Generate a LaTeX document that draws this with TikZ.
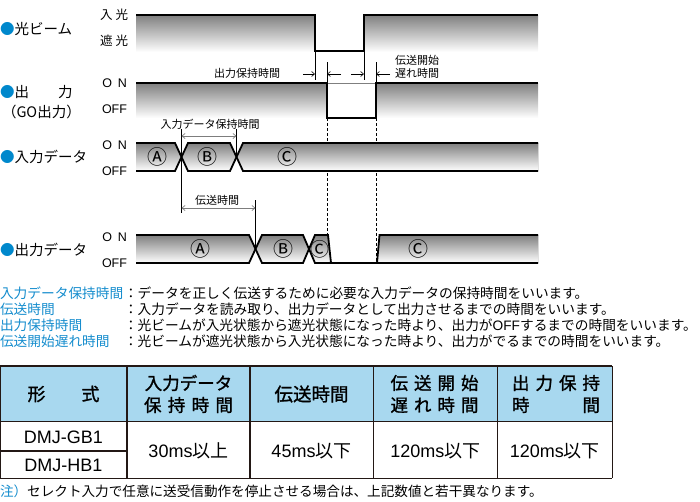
\documentclass[tikz,border=0pt]{standalone}
\usepackage{fontspec}
\setmainfont{Noto Sans CJK JP}
\newfontfamily\lat{Liberation Sans}
\newfontfamily\jpb[FakeBold=1.2]{Noto Sans CJK JP}
\usetikzlibrary{arrows.meta}
\definecolor{shade}{RGB}{233,243,252}
\definecolor{hdr}{RGB}{168,216,239}
\definecolor{bluetxt}{RGB}{20,140,205}
\definecolor{bullet}{RGB}{0,136,204}
\definecolor{dimgray}{RGB}{125,125,125}
\definecolor{gridc}{RGB}{35,24,21}
\newcommand\myfs[1]{\fontsize{#1}{#1}\selectfont}
\tikzset{
  x=1pt, y=-1pt,
  sig/.style={line width=1.8pt},
  thinline/.style={line width=0.8pt},
  guide/.style={line width=0.8pt, dashed, dash pattern=on 3pt off 2pt},
  dimarrow/.style={line width=0.6pt, -{Straight Barb[length=3pt,width=5pt]}},
  grayarrow/.style={line width=0.7pt, dimgray, {Straight Barb[length=3pt,width=5pt]}-{Straight Barb[length=3pt,width=5pt]}},
  txt/.style={inner sep=0pt, outer sep=0pt},
  gridline/.style={line width=1.1pt, gridc},
}
\begin{document}
\begin{tikzpicture}
\useasboundingbox (0,0) rectangle (700,501);
% ---------- light beam ----------
\fill[shade] (136,15) rectangle (538,52);
\fill[white] (316,14) rectangle (363,50);
\draw[sig] (136,15) -- (315,15) -- (315,51) -- (364,51) -- (364,15) -- (538,15);
% ---------- output ----------
\fill[shade] (136,83) rectangle (538,118);
\fill[white] (328,84) rectangle (375,117);
\draw[sig] (136,83) -- (327,83) -- (327,118) -- (376,118) -- (376,83) -- (538,83);
% guide lines and small arrows
\draw[thinline] (315,51) -- (315,80);
\draw[thinline] (364,51) -- (364,80);
\draw[thinline] (327,62) -- (327,83);
\draw[thinline] (376,62) -- (376,83);
\coordinate (a1s) at (303,74); \coordinate (a1e) at (315,74);
\coordinate (a2s) at (341,74); \coordinate (a2e) at (327,74);
\coordinate (a3s) at (351,74); \coordinate (a3e) at (364,74);
\coordinate (a4s) at (390,74); \coordinate (a4e) at (376,74);
\draw[dimarrow] (a1s) -- (a1e);
\draw[dimarrow] (a2s) -- (a2e);
\draw[dimarrow] (a3s) -- (a3e);
\draw[dimarrow] (a4s) -- (a4e);
\draw[guide] (327,118) -- (327,263);
\draw[guide] (376,118) -- (376,263);
% ---------- input data ----------
\fill[shade] (136,143) -- (175,143) -- (181.5,157) -- (175,171) -- (136,171) -- cycle;
\fill[shade] (181.5,157) -- (188,143) -- (230,143) -- (236.5,157) -- (230,171) -- (188,171) -- cycle;
\fill[shade] (236.5,157) -- (243,143) -- (538,143) -- (538,171) -- (243,171) -- cycle;
\draw[sig] (136,143) -- (175,143) -- (188,171) -- (230,171) -- (243,143) -- (538,143);
\draw[sig] (136,171) -- (175,171) -- (188,143) -- (230,143) -- (243,171) -- (538,171);
\draw[thinline] (181.5,129) -- (181.5,213);
\draw[thinline] (236.5,129) -- (236.5,157);
\coordinate (h1) at (181.5,136); \coordinate (h2) at (236.5,136);
\draw[grayarrow] (h1) -- (h2);
% ---------- output data ----------
\fill[shade] (136,235) -- (249,235) -- (255.5,249) -- (249,263) -- (136,263) -- cycle;
\fill[shade] (255.5,249) -- (262,235) -- (303,235) -- (309,249) -- (303,263) -- (262,263) -- cycle;
\fill[shade] (309,249) -- (315,235) -- (328,235) -- (331,263) -- (315,263) -- cycle;
\fill[shade] (377,263) -- (379.5,235) -- (538,235) -- (538,263) -- cycle;
\draw[sig] (136,235) -- (249,235) -- (262,263) -- (303,263) -- (315,235) -- (328,235) -- (331,263);
\draw[sig] (377,263) -- (379.5,235) -- (538,235);
\draw[sig] (136,263) -- (249,263) -- (262,235) -- (303,235) -- (315,263) -- (538,263);
\draw[thinline] (255.5,200) -- (255.5,249);
\coordinate (t1) at (181.5,208); \coordinate (t2) at (255.5,208);
\draw[grayarrow] (t1) -- (t2);
% ---------- timing labels ----------
\node[txt, anchor=west] (lbeam) at (0,29) {\myfs{14.5}{\color{bullet}●}光ビーム};
\node[txt, anchor=west] (lout) at (0,92) {\myfs{14.5}{\color{bullet}●}出　　力};
\node[txt, anchor=west] (lgo) at (2,112) {\myfs{14.5}（GO出力）};
\node[txt, anchor=west] (lin) at (0,157) {\myfs{14.5}{\color{bullet}●}入力データ};
\node[txt, anchor=west] (lod) at (0,250) {\myfs{14.5}{\color{bullet}●}出力データ};
\node[txt, anchor=east] (s1) at (128,15) {\myfs{12.5}入\hspace{3pt}光};
\node[txt, anchor=east] (s2) at (128,41) {\myfs{12.5}遮\hspace{3pt}光};
\node[txt, anchor=east] (s3) at (127,83) {\myfs{12.5}\lat O\hspace{6pt}N};
\node[txt, anchor=east] (s4) at (127,109) {\myfs{12.5}\lat OFF};
\node[txt, anchor=east] (s5) at (127,145) {\myfs{12.5}\lat O\hspace{6pt}N};
\node[txt, anchor=east] (s6) at (127,171) {\myfs{12.5}\lat OFF};
\node[txt, anchor=east] (s7) at (127,237) {\myfs{12.5}\lat O\hspace{6pt}N};
\node[txt, anchor=east] (s8) at (127,263) {\myfs{12.5}\lat OFF};
\node[txt, anchor=east] (hold) at (280,73) {\myfs{11}出力保持時間};
\node[txt, anchor=west] (dl1) at (395,60) {\myfs{11}伝送開始};
\node[txt, anchor=west] (dl2) at (395,73) {\myfs{11}遅れ時間};
\node[txt] (ihold) at (210,124) {\myfs{11}入力データ保持時間};
\node[txt] (trans) at (217,200) {\myfs{11}伝送時間};
\node[txt] (ia) at (157,157) {\myfs{20}Ⓐ};
\node[txt] (ib) at (207,157) {\myfs{20}Ⓑ};
\node[txt] (ic) at (287,157) {\myfs{20}Ⓒ};
\node[txt] (oa) at (200,249) {\myfs{20}Ⓐ};
\node[txt] (ob) at (283,249) {\myfs{20}Ⓑ};
\node[txt] (oc) at (320,249) {\myfs{19}Ⓒ};
\node[txt] (oc2) at (418,249) {\myfs{20}Ⓒ};
% ---------- notes ----------
\node[txt, anchor=west] (n1t) at (0,293) {\myfs{13.7}\color{bluetxt}入力データ保持時間};
\node[txt, anchor=west] (n2t) at (0,309) {\myfs{13.7}\color{bluetxt}伝送時間};
\node[txt, anchor=west] (n3t) at (0,325.5) {\myfs{13.7}\color{bluetxt}出力保持時間};
\node[txt, anchor=west] (n4t) at (0,341.5) {\myfs{13.7}\color{bluetxt}伝送開始遅れ時間};
\node[txt, anchor=west] (n1) at (124,293) {\myfs{13.7}：データを正しく伝送するために必要な入力データの保持時間をいいます。};
\node[txt, anchor=west] (n2) at (124,309) {\myfs{13.7}：入力データを読み取り、出力データとして出力させるまでの時間をいいます。};
\node[txt, anchor=west] (n3) at (124,325.5) {\myfs{13.7}：光ビームが入光状態から遮光状態になった時より、出力が{\lat OFF}するまでの時間をいいます。};
\node[txt, anchor=west] (n4) at (124,341.5) {\myfs{13.7}：光ビームが遮光状態から入光状態になった時より、出力がでるまでの時間をいいます。};
% ---------- table ----------
\fill[hdr] (0,366) rectangle (612,421.7);
\draw[gridline] (0,366) -- (612.3,366);
\draw[gridline] (0,421.7) -- (612.3,421.7);
\draw[gridline] (0,478.3) -- (612.3,478.3);
\draw[gridline] (0,451) -- (127,451);
\draw[gridline] (0.5,366) -- (0.5,478.3);
\draw[gridline] (127,366) -- (127,478.3);
\draw[gridline] (250,366) -- (250,478.3);
\draw[gridline] (373.3,366) -- (373.3,478.3);
\draw[gridline] (497.3,366) -- (497.3,478.3);
\draw[gridline] (612.3,366) -- (612.3,478.3);
\node[txt] (h1t) at (63.5,394) {\myfs{18}\jpb 形\hspace{36pt}式};
\node[txt] (h2a) at (188.5,383) {\myfs{17.5}\jpb 入力データ};
\node[txt] (h2b) at (188.5,405) {\myfs{17.5}\jpb\makebox[89pt][s]{保\hfill 持\hfill 時\hfill 間}};
\node[txt] (h3t) at (311.5,394) {\myfs{18.5}\jpb 伝送時間};
\node[txt] (h4a) at (434.5,383) {\myfs{17.5}\jpb\makebox[88pt][s]{伝\hfill 送\hfill 開\hfill 始}};
\node[txt] (h4b) at (434.5,405) {\myfs{17.5}\jpb\makebox[88pt][s]{遅\hfill れ\hfill 時\hfill 間}};
\node[txt] (h5a) at (556,383) {\myfs{17.5}\jpb\makebox[88pt][s]{出\hfill 力\hfill 保\hfill 持}};
\node[txt] (h5b) at (556,405) {\myfs{17.5}\jpb\makebox[88pt][s]{時\hfill 間}};
\node[txt] (m1) at (63.5,437) {\myfs{18}\lat DMJ-GB1};
\node[txt] (m2) at (63.5,465) {\myfs{18}\lat DMJ-HB1};
\node[txt] (v1) at (188.5,451) {\myfs{18}{\lat 30ms}以上};
\node[txt] (v2) at (311.5,451) {\myfs{18}{\lat 45ms}以下};
\node[txt] (v3) at (435.3,451) {\myfs{18}{\lat 120ms}以下};
\node[txt] (v4) at (554.8,451) {\myfs{18}{\lat 120ms}以下};
\node[txt, anchor=west] (foot) at (0,491) {\myfs{13.6}{\color{bluetxt}注）}セレクト入力で任意に送受信動作を停止させる場合は、上記数値と若干異なります。};
\end{tikzpicture}
\end{document}
